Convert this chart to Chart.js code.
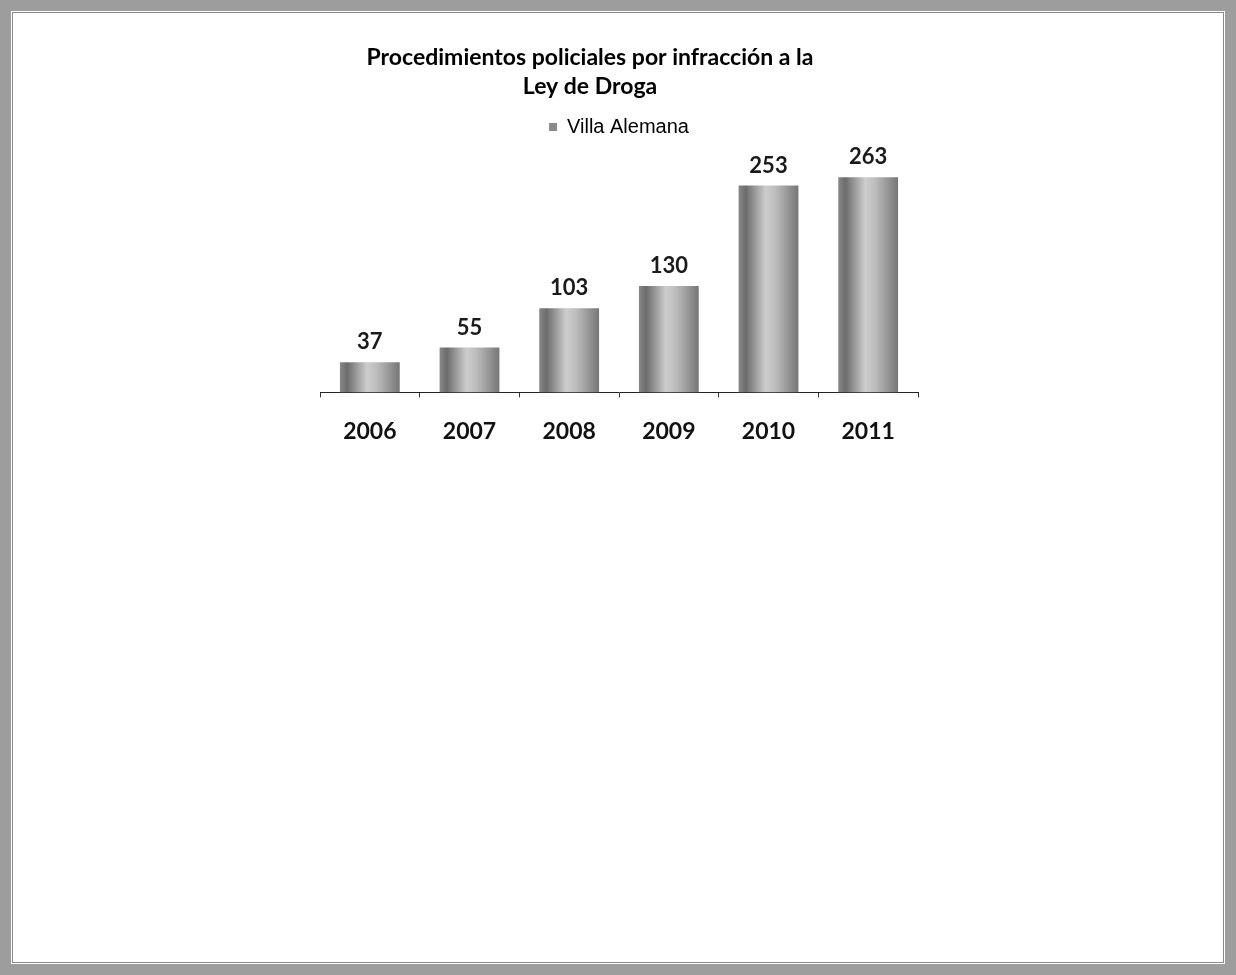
<!DOCTYPE html>
<html>
<head>
<meta charset="utf-8">
<script src="https://cdn.jsdelivr.net/npm/chart.js@4.4.1/dist/chart.umd.min.js"></script>
<style>
  html, body { margin: 0; padding: 0; background: #fff; }
  #frame {
    position: absolute; left: 0; top: 0; width: 1236px; height: 975px;
    box-sizing: border-box; border: 11px solid #9d9d9d;
    box-shadow: inset 0 0 0 1px #fff, inset 0 0 0 2px #8a8a8a;
  }
  #wrap { position: absolute; left: 0; top: 0; width: 1236px; height: 975px; }
</style>
</head>
<body>
<div id="frame"></div>
<div id="wrap"><canvas id="c"></canvas></div>
<script>
const titleLines = ['Procedimientos policiales por infracción a la', 'Ley de Droga'];
const seriesName = 'Villa Alemana';
const categories = ['2006', '2007', '2008', '2009', '2010', '2011'];
const values = [37, 55, 103, 130, 253, 263];
const yMax = 300;

const BAR_FRAC = 0.6;

function barGradient(c) {
  const chart = c.chart;
  if (!chart.chartArea || c.type !== 'data') return '#9a9a9a';
  const xs = chart.scales.x;
  const center = xs.getPixelForValue(c.dataIndex);
  const w = (xs.width / categories.length) * BAR_FRAC;
  const g = chart.ctx.createLinearGradient(center - w / 2, 0, center + w / 2, 0);
  g.addColorStop(0, '#888888');
  g.addColorStop(0.12, '#6c6c6c');
  g.addColorStop(0.45, '#cdcdcd');
  g.addColorStop(0.62, '#bcbcbc');
  g.addColorStop(1, '#767676');
  return g;
}

const valueLabels = {
  id: 'valueLabels',
  afterDatasetsDraw(chart) {
    const ctx = chart.ctx;
    const meta = chart.getDatasetMeta(0);
    ctx.save();
    ctx.font = 'bold 22px Lato';
    ctx.fillStyle = '#1a1a1a';
    ctx.textAlign = 'center';
    ctx.textBaseline = 'middle';
    meta.data.forEach((el, i) => {
      ctx.fillText(String(chart.data.datasets[0].data[i]), el.x, el.y - 20);
    });
    ctx.restore();
  }
};

new Chart(document.getElementById('c'), {
  type: 'bar',
  data: {
    labels: categories,
    datasets: [{
      label: seriesName,
      data: values,
      backgroundColor: barGradient,
      borderWidth: 0,
      barPercentage: BAR_FRAC,
      categoryPercentage: 1
    }]
  },
  options: {
    responsive: true,
    maintainAspectRatio: false,
    animation: false,
    devicePixelRatio: 1,
    layout: { padding: { left: 262, right: 318, top: 30, bottom: 510 } },
    plugins: {
      title: {
        display: true,
        text: titleLines,
        color: '#000',
        font: { family: 'Lato', weight: 'bold', size: 23, lineHeight: '29px' },
        padding: { top: 13, bottom: 6 }
      },
      legend: {
        display: true,
        position: 'top',
        fullSize: false,
        labels: {
          font: { family: 'Liberation Sans', size: 20 },
          color: '#2a2a2a',
          boxWidth: 8,
          boxHeight: 8,
          padding: 10,
          generateLabels: (chart) => [{
            text: chart.data.datasets[0].label,
            fillStyle: '#8a8a8a',
            strokeStyle: '#8a8a8a',
            lineWidth: 0,
            datasetIndex: 0
          }]
        }
      },
      tooltip: { enabled: false }
    },
    scales: {
      x: {
        grid: { display: true, drawOnChartArea: false, drawTicks: true, tickLength: 5, color: '#333', offset: true },
        border: { display: true, color: '#222', width: 1 },
        ticks: { color: '#111', font: { family: 'Lato', weight: 'bold', size: 23 }, padding: 20 }
      },
      y: {
        min: 0, max: yMax,
        display: true,
        afterFit(scale) { scale.width = 58; },
        grid: { display: false },
        border: { display: false },
        ticks: { display: false }
      }
    }
  },
  plugins: [valueLabels]
});
</script>
</body>
</html>
